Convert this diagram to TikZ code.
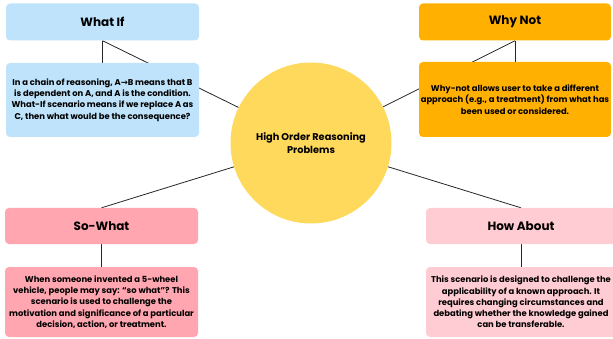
\documentclass[tikz,border=0pt]{standalone}
\usepackage{fontspec}
\setmainfont{Poppins}
\newfontfamily\arrowfont{DejaVu Sans}
\usetikzlibrary{backgrounds}
\definecolor{whatifblue}{HTML}{BEE3FA}
\definecolor{whynotorange}{HTML}{FFB000}
\definecolor{sowhatpink}{HTML}{FFA6B0}
\definecolor{howaboutpink}{HTML}{FFCCD3}
\definecolor{hopyellow}{HTML}{FFD95C}
\tikzset{
    titlebox/.style={rectangle, rounded corners=4pt, minimum width=193pt, minimum height=37pt, font=\bfseries\fontsize{12}{14}\selectfont, inner sep=0pt},
    bodybox/.style={rectangle, rounded corners=4pt, minimum width=193pt, align=center, font=\bfseries\fontsize{8.4}{11.2}\selectfont, inner sep=0pt},
    link/.style={draw=black!85, line width=0.8pt}
}

\begin{document}
\begin{tikzpicture}[x=1pt, y=-1pt]
                    \useasboundingbox (0,0) rectangle (613,339);
                    % centre
                    \node[circle, fill=hopyellow, minimum size=161pt, align=center, font=\bfseries\fontsize{9.8}{13}\selectfont] (hop) at (311,143) {High Order Reasoning\\Problems};
                    % what if
                    \node[titlebox, fill=whatifblue] (whatif) at (102.5,22) {What If};
                    \node[bodybox, fill=whatifblue, minimum height=74pt] (whatifbody) at (102.5,100) {In a chain of reasoning, A{\arrowfont→}B means that B\\is dependent on A, and A is the condition.\\What-If scenario means if we replace A as\\C, then what would be the consequence?};
                    % why not
                    \node[titlebox, fill=whynotorange, minimum width=192pt] (whynot) at (515,22) {Why Not};
                    \node[bodybox, fill=whynotorange, minimum width=192pt, minimum height=75pt] (whynotbody) at (515,99.5) {Why-not allows user to take a different\\approach (e.g., a treatment) from what has\\been used or considered.};
                    % so what
                    \node[titlebox, fill=sowhatpink, minimum height=36pt] (sowhat) at (101.5,226) {So-What};
                    \node[bodybox, fill=sowhatpink, minimum height=70pt] (sowhatbody) at (101.5,302) {When someone invented a 5-wheel\\vehicle, people may say: “so what”? This\\scenario is used to challenge the\\motivation and significance of a particular\\decision, action, or treatment.};
                    % how about
                    \node[titlebox, fill=howaboutpink, minimum width=190pt, minimum height=36pt] (howabout) at (521,226) {How About};
                    \node[bodybox, fill=howaboutpink, minimum width=190pt, minimum height=70pt] (howaboutbody) at (521,302) {This scenario is designed to challenge the\\applicability of a known approach. It\\requires changing circumstances and\\debating whether the knowledge gained\\can be transferable.};
                    \begin{scope}[on background layer]
                        \draw[link] (whatif.south) -- (hop);
                        \draw[link] (whatif.south) -- (whatifbody.north);
                        \draw[link] (whynot.south) -- (hop);
                        \draw[link] (whynot.south) -- (whynotbody.north);
                        \draw[link] (sowhat.north) -- (hop);
                        \draw[link] (sowhat.south) -- (sowhatbody.north);
                        \draw[link] (howabout.north) -- (hop);
                        \draw[link] (howabout.south) -- (howaboutbody.north);
                    \end{scope}
\end{tikzpicture}
\end{document}
